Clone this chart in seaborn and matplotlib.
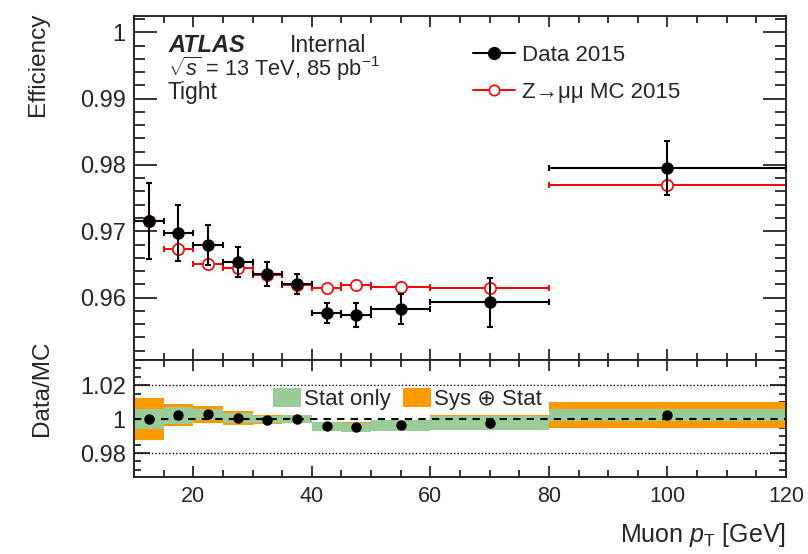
import numpy as np
import pandas as pd
import matplotlib
matplotlib.use("Agg")
import matplotlib.pyplot as plt
import seaborn as sns
from matplotlib.ticker import MultipleLocator, FuncFormatter
from matplotlib.lines import Line2D
from matplotlib.patches import Patch

# ---------------- data ----------------
bin_lo = [10, 15, 20, 25, 30, 35, 40, 45, 50, 60, 80]
bin_hi = [15, 20, 25, 30, 35, 40, 45, 50, 60, 80, 120]
pt_center = [12.5, 17.5, 22.5, 27.5, 32.5, 37.5, 42.5, 47.5, 55, 70, 100]

data_eff = [0.9716, 0.9697, 0.9679, 0.9654, 0.9636, 0.9621, 0.9577, 0.9574, 0.9583, 0.9593, 0.9795]
data_err = [0.0057, 0.0042, 0.0030, 0.0023, 0.0018, 0.0015, 0.0015, 0.0018, 0.0023, 0.0037, 0.0041]

mc_eff = [0.9715, 0.9673, 0.9650, 0.9644, 0.9634, 0.9619, 0.9615, 0.9619, 0.9616, 0.9614, 0.9770]
mc_err = [0.0002, 0.0002, 0.0002, 0.0002, 0.0002, 0.0002, 0.0002, 0.0002, 0.0002, 0.0002, 0.0003]

ratio = [1.0000, 1.0022, 1.0030, 1.0006, 0.9998, 1.0000, 0.9957, 0.9953, 0.9963, 0.9980, 1.0024]
stat_err = [0.0059, 0.0048, 0.0033, 0.0030, 0.0022, 0.0023, 0.0025, 0.0027, 0.0032, 0.0041, 0.0037]
tot_err = [0.0123, 0.0065, 0.0050, 0.0040, 0.0026, 0.0025, 0.0027, 0.0029, 0.0034, 0.0043, 0.0079]

# ---------------- style ----------------
sns.set_theme(style="ticks")
plt.rcParams["font.family"] = ["Liberation Sans", "DejaVu Sans"]
plt.rcParams["mathtext.fontset"] = "custom"
plt.rcParams["mathtext.rm"] = "Liberation Sans"
plt.rcParams["mathtext.it"] = "Liberation Sans:italic"
plt.rcParams["mathtext.bf"] = "Liberation Sans:bold"
plt.rcParams["axes.linewidth"] = 1.4

FS = 16
YFS = 17
XFS = 15.5
W, H = 808, 554
fig = plt.figure(figsize=(W / 100, H / 100), dpi=100)

def fx(px):
    return px / W

def fy(py):
    return 1 - py / H

left, right = 134, 786
top, split, bottom = 15.7, 360, 476.7
ax = fig.add_axes([fx(left), fy(split), fx(right) - fx(left), fy(top) - fy(split)])
axr = fig.add_axes([fx(left), fy(bottom), fx(right) - fx(left), fy(split) - fy(bottom)])

df = pd.DataFrame({
    "lo": bin_lo, "hi": bin_hi, "pt": pt_center,
    "data": data_eff, "derr": data_err,
    "mc": mc_eff, "mcerr": mc_err,
    "ratio": ratio, "stat": stat_err, "tot": tot_err,
})
xerr = [df["pt"] - df["lo"], df["hi"] - df["pt"]]
fmt = FuncFormatter(lambda v, p: f"{v:.2f}".rstrip("0").rstrip("."))

# ---------------- top panel ----------------
ax.errorbar(df["pt"], df["mc"], xerr=xerr, yerr=df["mcerr"], fmt="none",
            ecolor="#ff0000", elinewidth=1.4, capsize=2.2, capthick=1.4, zorder=2)
sns.scatterplot(data=df, x="pt", y="mc", ax=ax, marker="o", s=66,
                facecolor="white", edgecolor="#ff0000", linewidth=1.2, zorder=3, legend=False)
ax.errorbar(df["pt"], df["data"], xerr=xerr, yerr=df["derr"], fmt="none",
            ecolor="black", elinewidth=1.5, capsize=2.2, capthick=1.5, zorder=4)
sns.scatterplot(data=df, x="pt", y="data", ax=ax, marker="o", s=80,
                color="black", edgecolor="black", linewidth=0, zorder=5, legend=False)

ax.set_xlim(10, 120)
ax.set_ylim(0.9506, 1.0025)
ax.xaxis.set_major_locator(MultipleLocator(20))
ax.xaxis.set_minor_locator(MultipleLocator(5))
ax.yaxis.set_major_locator(MultipleLocator(0.01))
ax.yaxis.set_minor_locator(MultipleLocator(0.002))
ax.yaxis.set_major_formatter(fmt)
ax.set_xlabel("")
ax.set_ylabel("")
ax.tick_params(which="both", direction="in", top=True, right=True, width=1.1, color="black", pad=6)
ax.tick_params(axis="y", labelsize=YFS)
ax.tick_params(axis="y", which="major", length=16.5)
ax.tick_params(axis="y", which="minor", length=8)
ax.tick_params(axis="x", which="major", length=8)
ax.tick_params(axis="x", which="minor", length=5)
ax.tick_params(axis="x", labelbottom=False)

handles = [
    Line2D([0], [0], color="black", lw=1.5, marker="o", markersize=8.5, markerfacecolor="black"),
    Line2D([0], [0], color="#ff0000", lw=1.4, marker="o", markersize=7.5,
           markerfacecolor="white", markeredgecolor="#ff0000", markeredgewidth=1.2),
]
fig.legend(handles, ["Data 2015", "Z\u2192\u03bc\u03bc MC 2015"], loc="upper left",
           bbox_to_anchor=(fx(473), fy(45)), frameon=False, fontsize=FS,
           borderpad=0, borderaxespad=0, handlelength=1.9, handletextpad=0.3,
           labelspacing=0.72)

fig.text(fx(168), fy(51.7), "ATLAS", fontsize=17, fontweight="bold", style="italic", va="baseline")
fig.text(fx(290), fy(51.7), "Internal", fontsize=16.5, va="baseline")
fig.text(fx(168), fy(76), r"$\sqrt{s}$ = 13 TeV, 85 pb$^{-1}$", fontsize=15.7, va="baseline")
fig.text(fx(168), fy(99.5), "Tight", fontsize=16.5, va="baseline")

# ---------------- ratio panel ----------------
axr.bar(df["lo"], 2 * df["tot"], bottom=df["ratio"] - df["tot"], width=df["hi"] - df["lo"],
        align="edge", color="#ff9900", linewidth=0, zorder=1)
axr.bar(df["lo"], 2 * df["stat"], bottom=df["ratio"] - df["stat"], width=df["hi"] - df["lo"],
        align="edge", color="#99cc99", linewidth=0, zorder=2)
for yv in (1.02, 0.98):
    axr.axhline(yv, color="black", lw=1.0, ls=(0, (1, 1.5)), zorder=3)
axr.axhline(1.0, color="black", lw=1.5, ls=(0, (3.5, 3)), zorder=3)
sns.scatterplot(data=df, x="pt", y="ratio", ax=axr, marker="o", s=56,
                color="black", edgecolor="black", linewidth=0, zorder=6, legend=False)

axr.set_xlim(10, 120)
axr.set_ylim(0.966, 1.035)
axr.xaxis.set_major_locator(MultipleLocator(20))
axr.xaxis.set_minor_locator(MultipleLocator(5))
axr.yaxis.set_major_locator(MultipleLocator(0.02))
axr.yaxis.set_minor_locator(MultipleLocator(0.005))
axr.yaxis.set_major_formatter(fmt)
axr.set_xlabel("")
axr.set_ylabel("")
axr.tick_params(which="both", direction="in", top=True, right=True, width=1.1, color="black", pad=6)
axr.tick_params(axis="y", labelsize=YFS)
axr.tick_params(axis="x", labelsize=XFS, pad=7)
axr.tick_params(axis="y", which="major", length=11.5)
axr.tick_params(axis="y", which="minor", length=5)
axr.tick_params(axis="x", which="major", length=8)
axr.tick_params(axis="x", which="minor", length=5)

leg2 = axr.legend([Patch(facecolor="#99cc99", edgecolor="none"), Patch(facecolor="#ff9900", edgecolor="none")],
                  ["Stat only", "Sys \u2295 Stat"], ncol=2, loc="upper left",
                  bbox_to_anchor=(fx(271), fy(385.5)), bbox_transform=fig.transFigure,
                  frameon=True, facecolor="white", edgecolor="none", framealpha=1, fancybox=False,
                  fontsize=FS, borderpad=0.1, borderaxespad=0, handlelength=1.25, handleheight=0.95,
                  handletextpad=0.15, columnspacing=0.55)
leg2.set_zorder(5)

# axis titles
fig.text(fx(38), fy(13), "Efficiency", rotation=90, ha="center", va="top", fontsize=17.5)
fig.text(fx(42), fy(340), "Data/MC", rotation=90, ha="center", va="top", fontsize=17.5)
fig.text(fx(786), fy(541.7), r"Muon $p_{\mathrm{T}}$ [GeV]", ha="right", va="baseline", fontsize=18)

fig.savefig("out.png", dpi=100)
